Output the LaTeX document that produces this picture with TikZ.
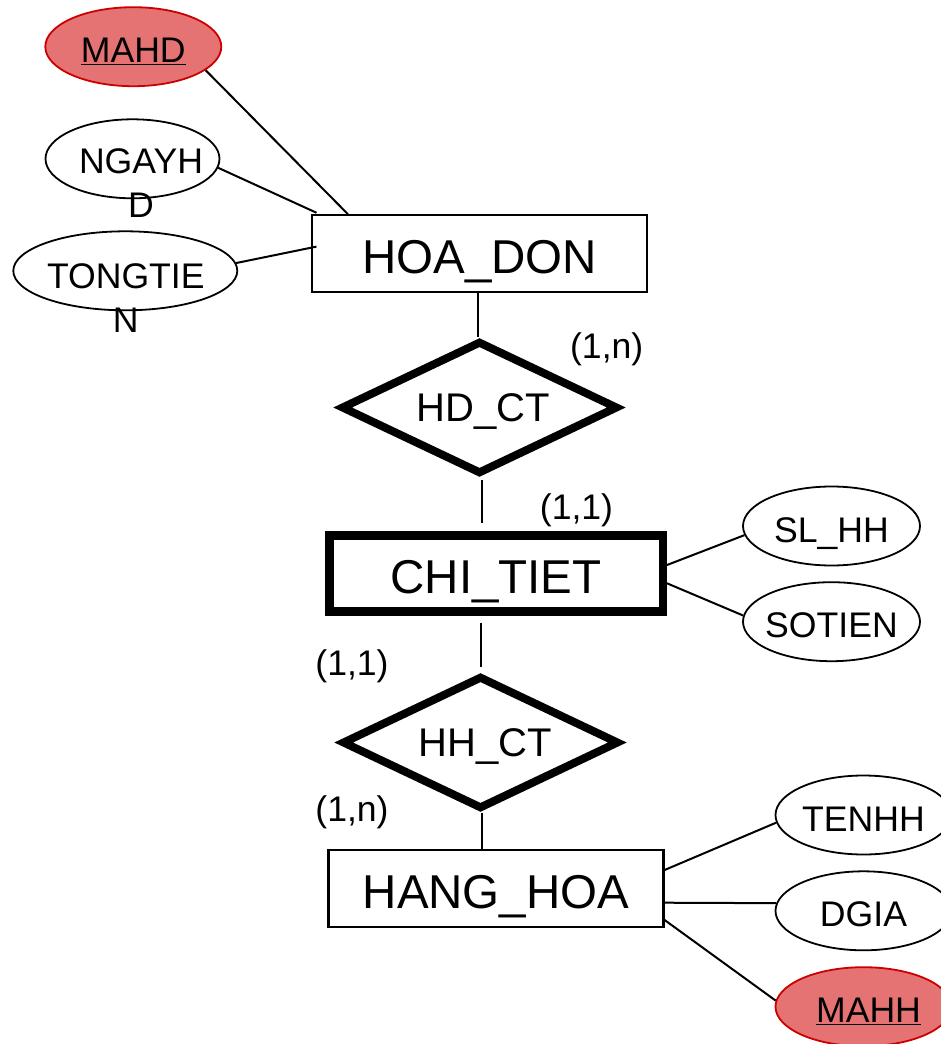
\documentclass[tikz,border=0pt]{standalone}
\usepackage{fontspec}
\setmainfont{Liberation Sans}
\usetikzlibrary{shapes.geometric}
\definecolor{keyfill}{RGB}{229,115,115}
\definecolor{keydraw}{RGB}{204,0,0}
\begin{document}
\begin{tikzpicture}[x=1pt,y=-1pt,
  attr/.style={ellipse, draw, line width=1.8pt, inner sep=0pt, minimum width=176pt, minimum height=79pt},
  keyattr/.style={attr, draw=keydraw, fill=keyfill},
  attrlabel/.style={font=\fontsize{35.6}{44}\selectfont, inner sep=0pt, text height=32pt, text depth=0pt},
  attrtext/.style={font=\fontsize{35.6}{44}\selectfont, align=center, inner sep=0pt, anchor=north},
  entity/.style={rectangle, draw, line width=2.2pt, minimum width=335pt, minimum height=76.5pt, inner sep=0pt,
    font=\fontsize{47.5}{56}\selectfont, text height=39pt, text depth=0pt},
  weakentity/.style={entity, line width=8.5pt, minimum width=333.5pt, minimum height=76pt},
  rel/.style={diamond, draw, line width=8pt, aspect=2.1, minimum width=277pt, minimum height=133pt, inner sep=0pt},
  rellabel/.style={font=\fontsize{40}{48}\selectfont, inner sep=0pt, text height=28.6pt, text depth=0pt},
  card/.style={font=\fontsize{35.6}{44}\selectfont, inner sep=0pt},
  conn/.style={line width=2pt}
]
\useasboundingbox (0,0) rectangle (940,1044);

% entities and relationships
\node[entity] (hoadon) at (479.6,253.6) {HOA\_DON};
\node[rel, label={[rellabel, xshift=4pt]center:HD\_CT}] (hdct) at (479.5,407.5) {};
\node[weakentity] (chitiet) at (496,573.5) {CHI\_TIET};
\node[rel, label={[rellabel, xshift=5pt]center:HH\_CT}] (hhct) at (480.5,742.5) {};
\node[entity] (hanghoa) at (496,888.5) {HANG\_HOA};

% attributes of HOA_DON
\node[keyattr, label={[attrlabel]center:\underline{MAHD}}] (mahd) at (133.3,46.7) {};
\node[attr, minimum width=174pt] (ngayhd) at (132.5,158.8) {};
\node[attrtext] (ngayhdtxt) at (141,148.3) {NGAYH\\D};
\node[attr, minimum width=224pt] (tongtien) at (125.3,270.8) {};
\node[attrtext] (tongtientxt) at (125.8,263.3) {TONGTIE\\N};

% attributes of CHI_TIET
\node[attr, minimum width=177pt, label={[attrlabel]center:SL\_HH}] (slhh) at (831.5,526) {};
\node[attr, minimum width=177pt, label={[attrlabel]center:SOTIEN}] (sotien) at (831.5,621.7) {};

% attributes of HANG_HOA
\node[attr, label={[attrlabel]center:TENHH}] (tenhh) at (863.5,815) {};
\node[attr, label={[attrlabel]center:DGIA}] (dgia) at (863.5,910.8) {};
\node[keyattr, label={[attrlabel, xshift=5pt]center:\underline{MAHH}}] (mahh) at (863.5,1006.7) {};

% cardinalities
\node[card] (c1) at (606.7,349.5) {(1,n)};
\node[card] (c2) at (576.5,510) {(1,1)};
\node[card] (c3) at (352,666) {(1,1)};
\node[card] (c4) at (352,812.5) {(1,n)};

% connectors: attributes
\draw[conn] (mahd.-18) -- ([xshift=37pt]hoadon.north west);
\draw[conn] (ngayhd.-6) -- ([xshift=5.5pt,yshift=1.5pt]hoadon.north west);
\draw[conn] (tongtien.4) -- ([xshift=5.5pt,yshift=7pt]hoadon.west);
\draw[conn] ([yshift=8.5pt]chitiet.east) -- (slhh.186);
\draw[conn] ([yshift=-9.8pt]chitiet.east) -- (sotien.176);
\draw[conn] ([yshift=18.5pt]hanghoa.east) -- (tenhh.185);
\draw[conn] ([yshift=-14.2pt]hanghoa.east) -- (dgia.175);
\draw[conn] ([yshift=-31.5pt]hanghoa.east) -- (mahh.176);

% connectors: relationships
\draw[conn] ([xshift=-2pt]hoadon.south -| hdct.north) -- ([xshift=-2pt]hdct.north);
\draw[conn, shorten <=1.5pt, shorten >=8pt] ([xshift=2pt]hdct.south) -- ([xshift=2pt]hdct.south |- chitiet.north);
\draw[conn, shorten <=7.5pt, shorten >=5pt] (hhct.north |- chitiet.south) -- (hhct.north);
\draw[conn] ([xshift=1pt]hhct.south) -- ([xshift=1pt]hhct.south |- hanghoa.north);
\end{tikzpicture}
\end{document}
